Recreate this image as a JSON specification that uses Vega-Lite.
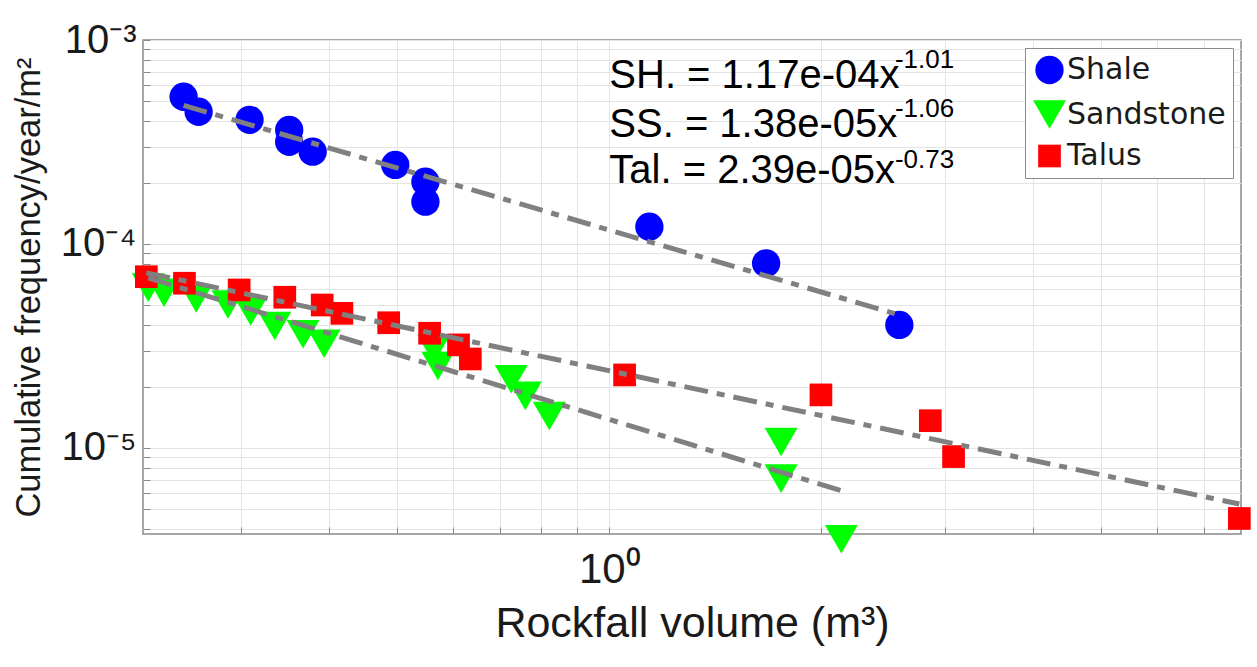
{
  "$schema": "https://vega.github.io/schema/vega-lite/v6.json",
  "width": 1098,
  "height": 494,
  "autosize": {"type": "none"},
  "padding": {"left": 143, "top": 40, "right": 16, "bottom": 133},
  "background": "white",
  "config": {
    "view": {"stroke": "#8a8a8a", "strokeWidth": 1.5},
    "font": "Liberation Sans"
  },
  "datasets": {
    "points": [
      {"x": 0.2485, "y": 0.000527, "type": "Shale"},
      {"x": 0.261, "y": 0.000445, "type": "Shale"},
      {"x": 0.3083, "y": 0.000406, "type": "Shale"},
      {"x": 0.351, "y": 0.000362, "type": "Shale"},
      {"x": 0.351, "y": 0.000317, "type": "Shale"},
      {"x": 0.379, "y": 0.0002835, "type": "Shale"},
      {"x": 0.4966, "y": 0.000244, "type": "Shale"},
      {"x": 0.548, "y": 0.000202, "type": "Shale"},
      {"x": 0.548, "y": 0.0001612, "type": "Shale"},
      {"x": 1.14, "y": 0.0001216, "type": "Shale"},
      {"x": 1.67, "y": 0.0000804, "type": "Shale"},
      {"x": 2.582, "y": 0.0000401, "type": "Shale"},
      {"x": 0.2214, "y": 0.0000611, "type": "Sandstone"},
      {"x": 0.2331, "y": 0.0000577, "type": "Sandstone"},
      {"x": 0.259, "y": 0.0000541, "type": "Sandstone"},
      {"x": 0.2873, "y": 0.0000505, "type": "Sandstone"},
      {"x": 0.3095, "y": 0.0000467, "type": "Sandstone"},
      {"x": 0.3348, "y": 0.0000396, "type": "Sandstone"},
      {"x": 0.3673, "y": 0.0000361, "type": "Sandstone"},
      {"x": 0.3935, "y": 0.0000324, "type": "Sandstone"},
      {"x": 0.5632, "y": 0.0000305, "type": "Sandstone"},
      {"x": 0.571, "y": 0.0000252, "type": "Sandstone"},
      {"x": 0.7256, "y": 0.0000217, "type": "Sandstone"},
      {"x": 0.7598, "y": 0.000018, "type": "Sandstone"},
      {"x": 0.8218, "y": 0.00001435, "type": "Sandstone"},
      {"x": 1.754, "y": 0.0000107, "type": "Sandstone"},
      {"x": 1.754, "y": 0.00000707, "type": "Sandstone"},
      {"x": 2.136, "y": 0.00000357, "type": "Sandstone"},
      {"x": 0.22, "y": 0.0000691, "type": "Talus"},
      {"x": 0.2492, "y": 0.0000642, "type": "Talus"},
      {"x": 0.298, "y": 0.0000595, "type": "Talus"},
      {"x": 0.346, "y": 0.0000548, "type": "Talus"},
      {"x": 0.391, "y": 0.0000502, "type": "Talus"},
      {"x": 0.417, "y": 0.0000457, "type": "Talus"},
      {"x": 0.486, "y": 0.0000411, "type": "Talus"},
      {"x": 0.5556, "y": 0.0000365, "type": "Talus"},
      {"x": 0.6107, "y": 0.000032, "type": "Talus"},
      {"x": 0.6347, "y": 0.0000273, "type": "Talus"},
      {"x": 1.0513, "y": 0.0000228, "type": "Talus"},
      {"x": 1.998, "y": 0.0000182, "type": "Talus"},
      {"x": 2.857, "y": 0.0000136, "type": "Talus"},
      {"x": 3.083, "y": 0.00000907, "type": "Talus"},
      {"x": 7.85, "y": 0.00000451, "type": "Talus"}
    ],
    "fits": [
      {"x": 0.2485, "y": 0.000478, "type": "Shale"},
      {"x": 2.582, "y": 0.0000449, "type": "Shale"},
      {"x": 0.2214, "y": 0.0000682, "type": "Sandstone"},
      {"x": 2.136, "y": 0.00000617, "type": "Sandstone"},
      {"x": 0.22, "y": 0.0000722, "type": "Talus"},
      {"x": 7.85, "y": 0.00000531, "type": "Talus"}
    ],
    "eq": [
      {"x": 1.0, "y": 0.0005796, "t": "SH. = 1.17e-04x"},
      {"x": 1.0, "y": 0.0003357, "t": "SS. = 1.38e-05x"},
      {"x": 1.0, "y": 0.0001984, "t": "Tal. = 2.39e-05x"}
    ],
    "eqexp": [
      {"x": 2.545, "y": 0.000729, "t": "-1.01"},
      {"x": 2.545, "y": 0.000421, "t": "-1.06"},
      {"x": 2.545, "y": 0.000235, "t": "-0.73"}
    ]
  },
  "encoding": {
    "x": {
      "field": "x",
      "type": "quantitative",
      "scale": {"type": "log", "domain": [0.2176, 7.893], "nice": false},
      "axis": {
        "title": "Rockfall volume (m³)",
        "values": [0.3, 0.4, 0.5, 0.6, 0.7, 0.8, 0.9, 1, 2, 3, 4, 5, 6, 7],
        "labelExpr": "datum.value == 1 ? '10⁰' : ''",
        "labelOverlap": false,
        "labelFlush": false,
        "grid": true,
        "gridColor": "#e4e4e4",
        "domain": false,
        "tickColor": "#8a8a8a",
        "tickSize": -7,
        "labelFont": "Liberation Sans",
        "labelFontSize": 42,
        "labelColor": "#1a1a1a",
        "labelPadding": 22,
        "titleFont": "Liberation Sans",
        "titleFontSize": 43,
        "titleFontWeight": "normal",
        "titleColor": "#1a1a1a",
        "titlePadding": 12
      }
    },
    "y": {
      "field": "y",
      "type": "quantitative",
      "scale": {"type": "log", "domain": [0.000003785, 0.001], "nice": false},
      "axis": {
        "title": "Cumulative frequency/year/m²",
        "values": [0.000004, 0.000005, 0.000006, 0.000007, 0.000008, 0.000009, 0.00001, 0.00002, 0.00003, 0.00004, 0.00005, 0.00006, 0.00007, 0.00008, 0.00009, 0.0001, 0.0002, 0.0003, 0.0004, 0.0005, 0.0006, 0.0007, 0.0008, 0.0009, 0.001],
        "labelExpr": "datum.value == 0.001 ? '10⁻³' : datum.value == 0.0001 ? '10⁻⁴' : datum.value == 0.00001 ? '10⁻⁵' : ''",
        "labelOverlap": false,
        "labelFlush": false,
        "grid": true,
        "gridColor": "#e4e4e4",
        "domain": false,
        "tickColor": "#8a8a8a",
        "tickSize": -7,
        "labelFont": "Liberation Sans",
        "labelFontSize": 40,
        "labelColor": "#1a1a1a",
        "labelPadding": 14,
        "titleFont": "Liberation Sans",
        "titleFontSize": 34.5,
        "titleFontWeight": "normal",
        "titleColor": "#1a1a1a",
        "titlePadding": 14
      }
    }
  },
  "layer": [
    {
      "data": {"name": "points"},
      "mark": {"type": "point", "filled": true, "opacity": 1},
      "encoding": {
        "color": {
          "field": "type",
          "type": "nominal",
          "scale": {"domain": ["Talus", "Shale", "Sandstone"], "range": ["#ff0000", "#0000ff", "#00ff00"]},
          "legend": {
            "title": null,
            "values": ["Shale", "Sandstone", "Talus"],
            "orient": "top-right",
            "offset": 8,
            "padding": 7,
            "strokeColor": "#8a8a8a",
            "fillColor": "white",
            "labelFont": "DejaVu Sans",
            "labelFontSize": 30,
            "labelColor": "#1a1a1a",
            "labelOffset": 0,
            "rowPadding": 9,
            "symbolOpacity": 1
          }
        },
        "shape": {
          "field": "type",
          "type": "nominal",
          "scale": {"domain": ["Talus", "Shale", "Sandstone"], "range": ["square", "circle", "triangle-down"]}
        },
        "size": {
          "field": "type",
          "type": "nominal",
          "scale": {"type": "point", "domain": ["Talus", "Shale", "Sandstone"], "range": [515, 1089]}
        }
      }
    },
    {
      "data": {"name": "fits"},
      "mark": {"type": "line", "color": "#808080", "strokeWidth": 5, "strokeDash": [24, 9, 8, 9]},
      "encoding": {"detail": {"field": "type", "type": "nominal"}}
    },
    {
      "data": {"name": "eq"},
      "mark": {"type": "text", "align": "left", "baseline": "alphabetic", "font": "Liberation Sans", "fontSize": 40, "color": "#000000"},
      "encoding": {"text": {"field": "t"}}
    },
    {
      "data": {"name": "eqexp"},
      "mark": {"type": "text", "align": "left", "baseline": "alphabetic", "font": "Liberation Sans", "fontSize": 26, "color": "#000000"},
      "encoding": {"text": {"field": "t"}}
    }
  ]
}
